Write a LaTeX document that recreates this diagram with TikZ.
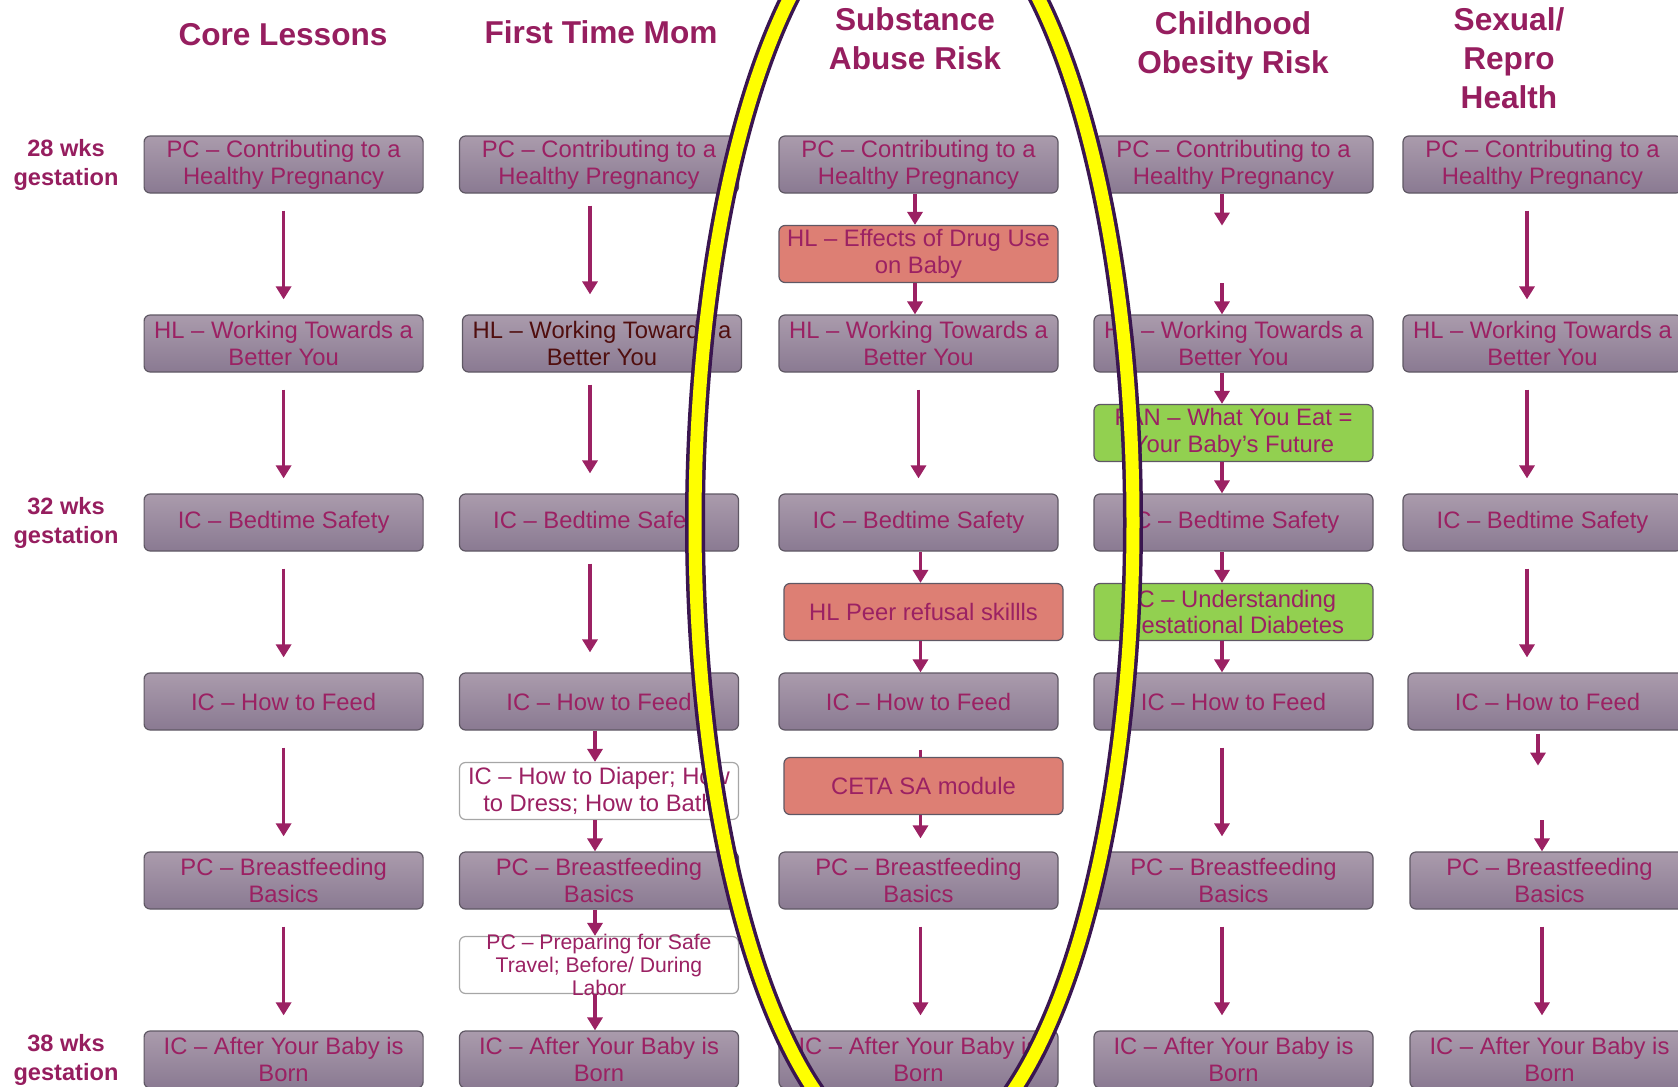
\documentclass[tikz,border=0pt]{standalone}
\usepackage{fontspec}
\setmainfont{Liberation Sans}
\usetikzlibrary{arrows.meta,calc}

\definecolor{lessontext}{RGB}{155,33,99}
\definecolor{headtext}{RGB}{150,30,95}
\definecolor{darktext}{RGB}{80,14,14}
\definecolor{boxtop}{RGB}{170,155,172}
\definecolor{boxbot}{RGB}{138,122,146}
\definecolor{boxline}{RGB}{95,88,100}
\definecolor{riskred}{RGB}{221,127,116}
\definecolor{riskgreen}{RGB}{146,208,80}
\definecolor{ringline}{RGB}{58,22,80}
\definecolor{ringfill}{RGB}{255,255,0}

\begin{document}
\begin{tikzpicture}[
    x=0.5pt, y=-0.5pt,
    node distance=89.5pt,
    card/.style={rectangle, rounded corners=3pt, draw=boxline, line width=0.6pt, minimum width=139.5pt, minimum height=28.5pt, inner sep=1pt, align=center, text=lessontext, font=\fontsize{11.9}{13.4}\selectfont},
    lesson/.style={card, top color=boxtop, bottom color=boxbot},
    risk/.style={card, fill=riskred},
    food/.style={card, fill=riskgreen},
    extra/.style={card, fill=white, draw=gray!70},
    head/.style={align=center, text=headtext, font=\bfseries\fontsize{15.8}{19.4}\selectfont},
    week/.style={align=center, text=headtext, font=\bfseries\fontsize{11.8}{14.5}\selectfont},
    arrow/.style={-{Triangle[width=7.5pt,length=6.5pt]}, line width=1.6pt, draw=lessontext},
    stub/.style={line width=1.6pt, draw=lessontext},
    gap/.style={shorten <=8.5pt, shorten >=7.5pt},
    momgap/.style={shorten <=6pt, shorten >=10pt}
]
\useasboundingbox (0,0) rectangle (1678,1087);

% Headings
\node[head] (hcore) at (283,35) {Core Lessons};
\node[head] (hmom) at (601,32) {First Time Mom};
\node[head] (hsub) at (915,39) {Substance\\Abuse Risk};
\node[head] (hobe) at (1233,46) {Childhood\\Obesity Risk};
\node[head] (hsex) at (1509,58) {Sexual/\\Repro\\Health};

% Weeks
\node[week] (w28) at (66,164.5) {28 wks\\gestation};
\node[week] (w32) at (66,522.5) {32 wks\\gestation};
\node[week] (w38) at (66,1059.5) {38 wks\\gestation};

% Core lessons
\node[lesson] (core1) at (283.6,164.5) {PC – Contributing to a\\Healthy Pregnancy};
\node[lesson, below of=core1] (core2) {HL – Working Towards a\\Better You};
\node[lesson, below of=core2] (core3) {IC – Bedtime Safety};
\node[lesson, below of=core3] (core4) {IC – How to Feed};
\node[lesson, below of=core4] (core5) {PC – Breastfeeding\\Basics};
\node[lesson, below of=core5] (core6) {IC – After Your Baby is\\Born};

% First time mom
\node[lesson] (mom1) at (599,164.5) {PC – Contributing to a\\Healthy Pregnancy};
\node[lesson, below of=mom1, xshift=1.5pt, text=darktext] (mom2) {HL – Working Towards a\\Better You};
\node[lesson, below of=mom1, node distance=179pt] (mom3) {IC – Bedtime Safety};
\node[lesson, below of=mom3] (mom4) {IC – How to Feed};
\node[lesson, below of=mom4] (mom5) {PC – Breastfeeding\\Basics};
\node[lesson, below of=mom5] (mom6) {IC – After Your Baby is\\Born};
\node[extra] (diaper2) at ($(mom4)!0.5!(mom5)$) {IC – How to Diaper; How\\to Dress; How to Bath};
\node[extra, yshift=2.5pt] (travel2) at ($(mom5)!0.5!(mom6)$) {};
\node[align=center, text=lessontext, font=\fontsize{10.6}{11.3}\selectfont] (travel2txt) at (travel2) {PC – Preparing for Safe\\Travel; Before/ During\\Labor};

% Substance abuse risk
\node[lesson] (sub1) at (918.5,164.5) {PC – Contributing to a\\Healthy Pregnancy};
\node[lesson, below of=sub1] (sub2) {HL – Working Towards a\\Better You};
\node[lesson, below of=sub2] (sub3) {IC – Bedtime Safety};
\node[lesson, below of=sub3] (sub4) {IC – How to Feed};
\node[lesson, below of=sub4] (sub5) {PC – Breastfeeding\\Basics};
\node[lesson, below of=sub5] (sub6) {IC – After Your Baby is\\Born};
\node[risk] (drug3) at ($(sub1)!0.5!(sub2)$) {HL – Effects of Drug Use\\on Baby};
\node[risk, xshift=2.5pt] (peer3) at ($(sub3)!0.5!(sub4)$) {HL Peer refusal skillls};
\node[risk, xshift=2.5pt, yshift=2.5pt] (ceta3) at ($(sub4)!0.5!(sub5)$) {CETA SA module};

% Childhood obesity risk
\node[lesson] (obe1) at (1233.5,164.5) {PC – Contributing to a\\Healthy Pregnancy};
\node[lesson, below of=obe1] (obe2) {HL – Working Towards a\\Better You};
\node[lesson, below of=obe2] (obe3) {IC – Bedtime Safety};
\node[lesson, below of=obe3] (obe4) {IC – How to Feed};
\node[lesson, below of=obe4] (obe5) {PC – Breastfeeding\\Basics};
\node[lesson, below of=obe5] (obe6) {IC – After Your Baby is\\Born};
\node[food] (fan4) at ($(obe2)!0.5!(obe3)$) {FAN – What You Eat =\\Your Baby’s Future};
\node[food] (gd4) at ($(obe3)!0.5!(obe4)$) {IC – Understanding\\Gestational Diabetes};
\coordinate (gap4a) at ([yshift=-16pt]obe1.south);
\coordinate (gap4b) at ([yshift=15.7pt]obe2.north);

% Sexual / repro health
\node[lesson] (sex1) at (1542.5,164.5) {PC – Contributing to a\\Healthy Pregnancy};
\node[lesson, below of=sex1] (sex2) {HL – Working Towards a\\Better You};
\node[lesson, below of=sex2] (sex3) {IC – Bedtime Safety};
\node[lesson, below of=sex3, xshift=2.5pt] (sex4) {IC – How to Feed};
\node[lesson, below of=sex4, xshift=1pt] (sex5) {PC – Breastfeeding\\Basics};
\node[lesson, below of=sex5] (sex6) {IC – After Your Baby is\\Born};
\coordinate (gap5a) at ([yshift=-17.5pt]sex4.south);
\coordinate (gap5b) at ([yshift=15.5pt]sex5.north);

% Arrows
\draw[arrow, gap] (core1) -- (core2);
\draw[arrow, gap] (core2) -- (core3);
\draw[arrow, gap] (core3) -- (core4);
\draw[arrow, gap] (core4) -- (core5);
\draw[arrow, gap] (core5) -- (core6);

\draw[arrow, momgap, transform canvas={xshift=-4.5pt}] (mom1) -- (mom1 |- mom2.north);
\draw[arrow, momgap, transform canvas={xshift=-4.5pt}] (mom3 |- mom2.south) -- (mom3);
\draw[arrow, momgap, transform canvas={xshift=-4.5pt}] (mom3) -- (mom4);
\draw[arrow, transform canvas={xshift=-2pt}] (mom4) -- (diaper2);
\draw[arrow, transform canvas={xshift=-2pt}] (diaper2) -- (mom5);
\draw[arrow, transform canvas={xshift=-2pt}] (mom5) -- (travel2);
\draw[arrow, transform canvas={xshift=-2pt}] (travel2) -- (mom6);

\draw[arrow, transform canvas={xshift=-1.75pt}] (sub1) -- (drug3);
\draw[arrow, transform canvas={xshift=-1.75pt}] (drug3) -- (sub2);
\draw[arrow, gap] (sub2) -- (sub3);
\draw[arrow, transform canvas={xshift=1pt}] (sub3) -- (sub3 |- peer3.north);
\draw[arrow, transform canvas={xshift=1pt}] (sub4 |- peer3.south) -- (sub4);
\draw[stub, shorten <=9.5pt, transform canvas={xshift=1pt}] (sub4) -- (sub4 |- ceta3.north);
\draw[arrow, shorten >=6.5pt, transform canvas={xshift=1pt}] (sub5 |- ceta3.south) -- (sub5);
\draw[arrow, gap, transform canvas={xshift=1pt}] (sub5) -- (sub6);

\draw[arrow, transform canvas={xshift=-5.75pt}] (obe1) -- (gap4a);
\draw[arrow, transform canvas={xshift=-5.75pt}] (gap4b) -- (obe2);
\draw[arrow, transform canvas={xshift=-5.75pt}] (obe2) -- (fan4);
\draw[arrow, transform canvas={xshift=-5.75pt}] (fan4) -- (obe3);
\draw[arrow, transform canvas={xshift=-5.75pt}] (obe3) -- (gd4);
\draw[arrow, transform canvas={xshift=-5.75pt}] (gd4) -- (obe4);
\draw[arrow, gap, transform canvas={xshift=-5.75pt}] (obe4) -- (obe5);
\draw[arrow, gap, transform canvas={xshift=-5.75pt}] (obe5) -- (obe6);

\draw[arrow, gap, transform canvas={xshift=-7.75pt}] (sex1) -- (sex2);
\draw[arrow, gap, transform canvas={xshift=-7.75pt}] (sex2) -- (sex3);
\draw[arrow, gap, transform canvas={xshift=-7.75pt}] (sex3) -- (sex3 |- sex4.north);
\draw[arrow, shorten <=1.5pt, transform canvas={xshift=-4.75pt}] (sex4) -- (gap5a);
\draw[arrow, transform canvas={xshift=-3.75pt}] (gap5b) -- (sex5);
\draw[arrow, gap, transform canvas={xshift=-3.75pt}] (sex5) -- (sex6);

% Highlight ring
\draw[ringline, line width=10pt] (914,522.6) ellipse [x radius=219, y radius=637];
\draw[ringfill, line width=6.5pt] (914,522.6) ellipse [x radius=219, y radius=637];

\end{tikzpicture}
\end{document}
